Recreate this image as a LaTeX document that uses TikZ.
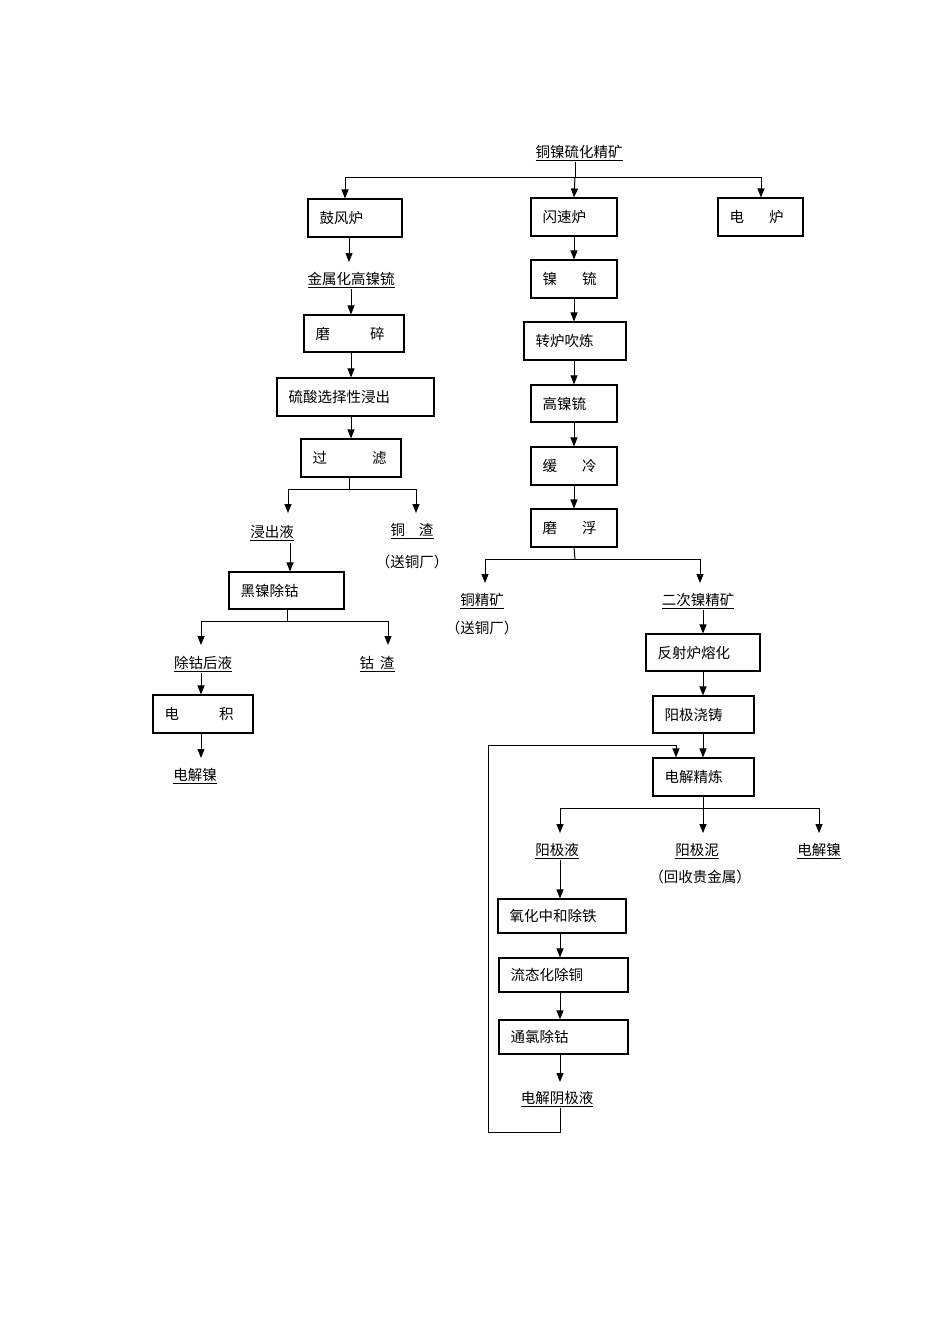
\documentclass[tikz,border=0pt]{standalone}
\usepackage{fontspec}
\setmainfont{Noto Sans CJK SC}
\usetikzlibrary{arrows.meta,fit}
\tikzset{
  bx/.style={draw,line width=1.1pt,inner sep=0pt},
  tx/.style={font=\fontsize{14.5}{16}\selectfont,inner sep=1pt},
  ar/.style={line width=1pt,-{Triangle[length=9pt,width=7pt]}},
  ln/.style={line width=1pt}
}
\newcommand\myul[1]{\underline{#1}}
\newcommand\mybox[6]{%
  \node[bx,fit={(#2,#3)(#4,#5)}] (#1) {};
  \node[tx,anchor=west] (#1t) at ([xshift=11pt]#1.west) {#6};}
\begin{document}
\begin{tikzpicture}[x=1pt,y=-1pt]
\useasboundingbox (0,0) rectangle (950,1344);
% boxes
\mybox{gf}{308}{199}{402}{237}{鼓风炉}
\mybox{ss}{531}{198}{617}{236}{闪速炉}
\mybox{dl}{718}{198}{803}{236}{电\hspace{25pt}炉}
\mybox{nl}{531}{260}{617}{298}{镍\hspace{25pt}锍}
\mybox{zl}{524}{322}{626}{360}{转炉吹炼}
\mybox{gn}{531}{385}{617}{422}{高镍锍}
\mybox{hl}{531}{447}{617}{485}{缓\hspace{25pt}冷}
\mybox{mf}{531}{509}{617}{547}{磨\hspace{25pt}浮}
\mybox{ms}{304}{315}{404}{352}{磨\hspace{40pt}碎}
\mybox{ls}{277}{378}{434}{416}{硫酸选择性浸出}
\mybox{gl}{301}{439}{401}{477}{过\hspace{45pt}滤}
\mybox{hn}{229}{572}{344}{609}{黑镍除钴}
\mybox{dj}{153}{695}{253}{733}{电\hspace{40pt}积}
\mybox{fs}{646}{634}{760}{671}{反射炉熔化}
\mybox{yj}{653}{696}{754}{733}{阳极浇铸}
\mybox{dr}{653}{758}{754}{796}{电解精炼}
\mybox{yh}{498}{899}{626}{933}{氧化中和除铁}
\mybox{lt}{499}{958}{628}{992}{流态化除铜}
\mybox{tl}{499}{1020}{628}{1054}{通氯除钴}
% labels
\node[tx] (top) at (579,153) {\myul{铜镍硫化精矿}};
\node[tx] (jsh) at (351,280) {\myul{金属化高镍锍}};
\node[tx] (jcy) at (272,533) {\myul{浸出液}};
\node[tx] (tz) at (412,531) {\myul{铜\hspace{14pt}渣}};
\node[tx] (stc1) at (412,562) {（送铜厂）};
\node[tx] (tjk) at (482,601) {\myul{铜精矿}};
\node[tx] (stc2) at (482,628) {（送铜厂）};
\node[tx] (ec) at (698,601) {\myul{二次镍精矿}};
\node[tx] (cgh) at (203,664) {\myul{除钴后液}};
\node[tx] (gz) at (377,664) {\myul{钴\hspace{6pt}渣}};
\node[tx] (djn1) at (195,776) {\myul{电解镍}};
\node[tx] (yjy) at (557,851) {\myul{阳极液}};
\node[tx] (yjn) at (697,851) {\myul{阳极泥}};
\node[tx] (hs) at (700,877) {（回收贵金属）};
\node[tx] (djn2) at (819,851) {\myul{电解镍}};
\node[tx] (djy) at (557,1099) {\myul{电解阴极液}};
\coordinate (lp) at (676,745);
% top split
\draw[ln] (575,162) -- (575,177);
\draw[ar] (575,177) -- (ss.north);
\draw[ar] (575,177) -| (gf.north -| 345,0);
\draw[ar] (575,177) -| (dl.north -| 761,0);
% left column
\draw[ar] (349,237) -- (349,262);
\draw[ar] (351,289) -- (ms.north -| 351,0);
\draw[ar] (ms.south -| 351,0) -- (ls.north -| 351,0);
\draw[ar] (ls.south -| 351,0) -- (gl.north -| 351,0);
\draw[ln] (gl.south -| 349,0) -- (349,489);
\draw[ar] (349,489) -| (288,513);
\draw[ar] (349,489) -| (416,513);
\draw[ar] (290,543) -- (hn.north -| 290,0);
\draw[ln] (hn.south -| 287,0) -- (287,621);
\draw[ar] (287,621) -| (201,645);
\draw[ar] (287,621) -| (388,645);
\draw[ar] (201,673) -- (dj.north -| 201,0);
\draw[ar] (dj.south -| 201,0) -- (201,758);
% middle column
\draw[ar] (ss.south) -- (nl.north);
\draw[ar] (nl.south) -- (zl.north -| nl.south);
\draw[ar] (zl.south -| nl.south) -- (gn.north);
\draw[ar] (gn.south) -- (hl.north);
\draw[ar] (hl.south) -- (mf.north);
\draw[ln] (mf.south) -- (575,559);
\draw[ar] (575,559) -| (485,583);
\draw[ar] (575,559) -| (700,583);
\draw[ar] (703,610) -- (fs.north -| 703,0);
\draw[ar] (fs.south -| 703,0) -- (yj.north -| 703,0);
\draw[ar] (yj.south -| 703,0) -- (dr.north -| 703,0);
\draw[ln] (dr.south -| 703,0) -- (703,808);
\draw[ar] (703,808) -| (560,833);
\draw[ar] (703,808) -- (703,833);
\draw[ar] (703,808) -| (819,833);
\draw[ar] (560,860) -- (yh.north -| 560,0);
\draw[ar] (yh.south -| 560,0) -- (lt.north -| 560,0);
\draw[ar] (lt.south -| 560,0) -- (tl.north -| 560,0);
\draw[ar] (tl.south -| 560,0) -- (560,1082);
\draw[ln] (560,1108) -- (560,1132) -- (488,1132) -- (488,745) -- (lp);
\draw[ar] (lp) -- (dr.north -| lp);
\end{tikzpicture}
\end{document}
